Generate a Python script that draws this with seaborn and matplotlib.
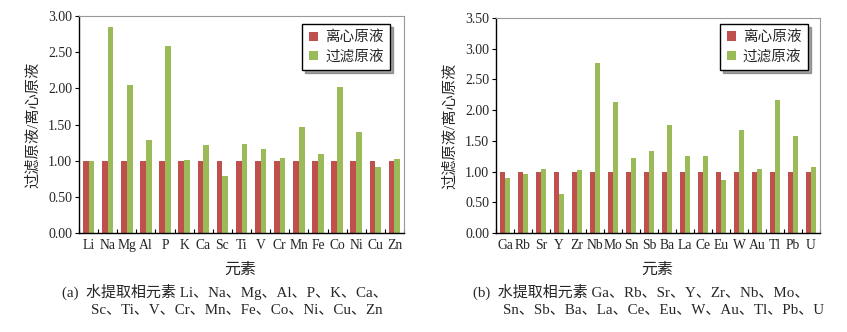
import numpy as np
import pandas as pd
import matplotlib
matplotlib.use("Agg")
import matplotlib.pyplot as plt
import seaborn as sns
from matplotlib.ticker import FixedLocator

sns.set_theme(style="white")
plt.rcParams['font.family'] = ['Liberation Serif', 'Noto Sans CJK SC']
plt.rcParams['axes.unicode_minus'] = False

series_names = ["离心原液", "过滤原液"]
colors = ["#C0504D", "#9BBB59"]

elements_a = ["Li", "Na", "Mg", "Al", "P", "K", "Ca", "Sc", "Ti", "V", "Cr", "Mn", "Fe", "Co", "Ni", "Cu", "Zn"]
centrifuge_a = [1.00] * 17
filtered_a = [1.00, 2.85, 2.05, 1.29, 2.58, 1.01, 1.22, 0.79, 1.23, 1.16, 1.04, 1.47, 1.09, 2.02, 1.39, 0.91, 1.02]

elements_b = ["Ga", "Rb", "Sr", "Y", "Zr", "Nb", "Mo", "Sn", "Sb", "Ba", "La", "Ce", "Eu", "W", "Au", "Tl", "Pb", "U"]
centrifuge_b = [1.00] * 18
filtered_b = [0.89, 0.96, 1.04, 0.64, 1.02, 2.77, 2.14, 1.22, 1.34, 1.76, 1.25, 1.26, 0.87, 1.67, 1.05, 2.16, 1.58, 1.07]

yticks_a = [0, 0.5, 1.0, 1.5, 2.0, 2.5, 3.0]
yticks_b = [0, 0.5, 1.0, 1.5, 2.0, 2.5, 3.0, 3.5]

ylabel = "过滤原液/离心原液"
xlabel = "元素"
caption_a = ["(a)  水提取相元素 Li、Na、Mg、Al、P、K、Ca、",
             "Sc、Ti、V、Cr、Mn、Fe、Co、Ni、Cu、Zn"]
caption_b = ["(b)  水提取相元素 Ga、Rb、Sr、Y、Zr、Nb、Mo、",
             "Sn、Sb、Ba、La、Ce、Eu、W、Au、Tl、Pb、U"]


def make_df(elements, c, f):
    return pd.DataFrame({
        "element": elements * 2,
        "ratio": list(c) + list(f),
        "series": [series_names[0]] * len(elements) + [series_names[1]] * len(elements),
    })


fig = plt.figure(figsize=(8.47, 3.32), dpi=100)
ax_a = fig.add_axes([79 / 847, 1 - 233 / 332, 325 / 847, 217 / 332])
ax_b = fig.add_axes([496 / 847, 1 - 233 / 332, 324 / 847, 215 / 332])


def draw(ax, elements, c, f, yticks, ymax, leg_anchor):
    df = make_df(elements, c, f)
    sns.barplot(data=df, x="element", y="ratio", hue="series", palette=colors,
                width=0.6, saturation=1, ax=ax, linewidth=0, order=elements,
                hue_order=series_names)
    n = len(elements)
    ax.set_xlim(-0.5, n - 0.5)
    ax.set_ylim(0, ymax)
    ax.set_yticks(yticks)
    ax.set_yticklabels([f"{v:.2f}" for v in yticks], fontsize=10)
    ax.set_xticks(range(n))
    ax.set_xticklabels(elements, fontsize=9.8)
    ax.xaxis.set_minor_locator(FixedLocator(np.arange(-0.5, n, 1.0)))
    ax.tick_params(axis="x", which="major", length=0, pad=4)
    ax.tick_params(axis="x", which="minor", direction="in", length=3, color="black", width=0.8, bottom=True)
    ax.tick_params(axis="y", which="major", direction="out", length=3, color="black", width=0.8, left=True, pad=2)
    for s in ["top", "right"]:
        ax.spines[s].set_color("#9a9a9a")
        ax.spines[s].set_linewidth(0.8)
    for s in ["left", "bottom"]:
        ax.spines[s].set_color("black")
        ax.spines[s].set_linewidth(1.0)
    ax.set_xlabel("")
    ax.set_ylabel(ylabel, fontsize=11, labelpad=6)
    leg = ax.legend(loc="upper right", bbox_to_anchor=leg_anchor, fontsize=10.5,
                    frameon=True, fancybox=False, shadow=True, handlelength=0.6,
                    handleheight=0.6, handletextpad=0.5, borderpad=0.45,
                    labelspacing=0.35, borderaxespad=0)
    leg.get_frame().set_edgecolor("black")
    leg.get_frame().set_linewidth(1.0)


draw(ax_a, elements_a, centrifuge_a, filtered_a, yticks_a, 3.0, (0.957, 0.963))
draw(ax_b, elements_b, centrifuge_b, filtered_b, yticks_b, 3.5, (0.963, 0.972))

fig.text(240 / 847, 1 - 270 / 332, xlabel, fontsize=11.5, ha="center", va="center")
fig.text(657 / 847, 1 - 270 / 332, xlabel, fontsize=11.5, ha="center", va="center")
fig.text(62 / 847, 1 - 292 / 332, caption_a[0], fontsize=10.8, ha="left", va="center")
fig.text(91 / 847, 1 - 310 / 332, caption_a[1], fontsize=10.8, ha="left", va="center")
fig.text(473 / 847, 1 - 292 / 332, caption_b[0], fontsize=10.8, ha="left", va="center")
fig.text(503 / 847, 1 - 310 / 332, caption_b[1], fontsize=10.8, ha="left", va="center")

fig.savefig("out.png", dpi=100)
